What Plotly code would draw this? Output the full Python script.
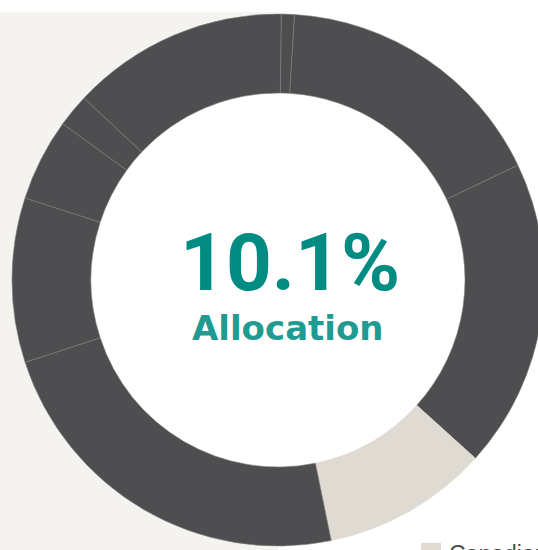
import plotly.graph_objects as go

# allocation by asset class, clockwise from 12 o'clock
labels = ["Cash", "U.S. Equity", "International Equity", "Canadian Equity",
          "Fixed Income", "Global Equity", "Real Estate", "Infrastructure",
          "Emerging Markets"]
values = [0.8, 16.9, 18.8, 10.1, 23.2, 10.0, 5.0, 2.0, 13.2]
highlight = "Canadian Equity"
center_value = "10.1%"
center_label = "Allocation"

DARK = "#4e4e50"
BEIGE = "#e0dbd2"
PANEL = "#f4f3ef"
TEAL = "#008c82"
TEAL2 = "#1f9b91"
SEP = "#7e7e80"

W, H = 560, 560
L, T, SIDE = 12, 14, 532
HOLE = 0.703


def px(x, y):
    # pixel position on the page -> paper coords
    return (x - L) / SIDE, 1 - (y - T) / SIDE


colors = [BEIGE if lab == highlight else DARK for lab in labels]
line_colors = [BEIGE if lab == highlight else SEP for lab in labels]

fig = go.Figure(go.Pie(
    labels=labels,
    values=values,
    hole=HOLE,
    sort=False,
    direction="clockwise",
    rotation=0.7,
    marker=dict(colors=colors, line=dict(color=line_colors, width=0.6)),
    textinfo="none",
    hoverinfo="label+percent",
    showlegend=False,
))

# grey panel on the left, white disc inside the hole
cx, cy, r = L + SIDE / 2, T + SIDE / 2, SIDE / 2 * HOLE
x0, y1 = px(0, 12)
x1, y0 = px(cx, 560)
hx0, hy1 = px(cx - r - 2, cy - r - 2)
hx1, hy0 = px(cx + r + 2, cy + r + 2)
sx0, sy0 = px(421, 543)
sx1, sy1 = px(441, 563)
shapes = [
    dict(type="rect", xref="paper", yref="paper", x0=x0, x1=x1, y0=y0, y1=y1,
         fillcolor=PANEL, line_width=0, layer="below"),
    dict(type="circle", xref="paper", yref="paper", x0=hx0, x1=hx1, y0=hy0, y1=hy1,
         fillcolor="white", line_width=0, layer="below"),
    dict(type="rect", xref="paper", yref="paper", x0=sx0, x1=sx1, y0=sy1, y1=sy0,
         fillcolor=BEIGE, line_width=0, layer="above"),
]

ax, ay = px(289.5, 263)
bx, by = px(288, 328)
lx, ly = px(447, 539)
annotations = [
    dict(text=center_value, x=ax, y=ay, xref="paper", yref="paper",
         xanchor="center", yanchor="middle", showarrow=False,
         font=dict(family="Roboto", size=80, color=TEAL, weight=700)),
    dict(text=center_label, x=bx, y=by, xref="paper", yref="paper",
         xanchor="center", yanchor="middle", showarrow=False,
         font=dict(family="DejaVu Sans", size=34, color=TEAL2, weight=700)),
    dict(text=highlight, x=lx, y=ly, xref="paper", yref="paper",
         xanchor="left", yanchor="top", showarrow=False,
         font=dict(family="Liberation Sans, Arial", size=23, color="#4a4a4a")),
]

fig.update_layout(
    width=W, height=H,
    margin=dict(l=L, r=W - L - SIDE, t=T, b=H - T - SIDE),
    paper_bgcolor="white",
    plot_bgcolor="white",
    shapes=shapes,
    annotations=annotations,
)

fig.write_html(
    "out.html",
    config={"displayModeBar": False},
    post_script="document.body.style.margin='0';document.body.style.overflow='hidden';",
)
